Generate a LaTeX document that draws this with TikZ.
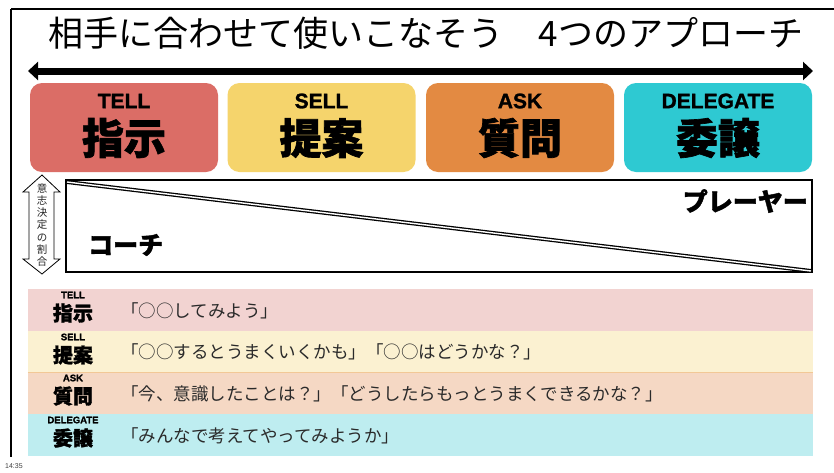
\documentclass[tikz,border=0pt]{standalone}
\usepackage{fontspec}
\setmainfont{Liberation Sans}[BoldFeatures={FakeBold=1.3}]
\newfontfamily\cjk{Noto Sans CJK JP}
\newfontfamily\cjkh{Noto Sans CJK JP}[BoldFeatures={FakeBold=1.6}]
\usetikzlibrary{arrows.meta}
\definecolor{tellred}{HTML}{DB6D66}
\definecolor{sellyellow}{HTML}{F5D46C}
\definecolor{askorange}{HTML}{E38A42}
\definecolor{delcyan}{HTML}{2EC9D2}
\definecolor{rowa}{HTML}{F2D3D1}
\definecolor{rowb}{HTML}{FBF1D1}
\definecolor{rowc}{HTML}{F5D8C4}
\definecolor{rowd}{HTML}{BEEDF0}
\definecolor{sepline}{HTML}{F2C896}
\definecolor{quotetext}{HTML}{2A2A2A}
\begin{document}
\begin{tikzpicture}[x=1pt,y=-1pt,
  topbox/.style={rounded corners=12pt, minimum width=188pt, minimum height=89pt, inner sep=0pt},
  enlabel/.style={font=\bfseries\fontsize{21}{21}\selectfont, inner sep=0pt},
  kanjilabel/.style={font=\cjkh\bfseries\fontsize{42}{42}\selectfont, inner sep=0pt},
  rowbox/.style={minimum width=785pt, inner sep=0pt},
  smallen/.style={font=\bfseries\fontsize{9.5}{9.5}\selectfont, inner sep=0pt},
  smallkanji/.style={font=\cjkh\bfseries\fontsize{20}{20}\selectfont, inner sep=0pt},
  quote/.style={font=\cjk\fontsize{17.5}{17.5}\selectfont, text=quotetext, inner sep=0pt, anchor=west},
  rolelabel/.style={font=\cjkh\bfseries\fontsize{25}{25}\selectfont, inner sep=0pt}
]
\useasboundingbox (0,0) rectangle (834,472);
\fill[white] (0,0) rectangle (834,472);

% frame
\coordinate (ftr) at (834,9);
\coordinate (ftl) at (11,9);
\coordinate (fbl) at (11,457);
\draw[line width=1.5pt] (ftr) -- (ftl);
\draw[line width=2pt] (ftl) -- (fbl);

% title
\node[font=\cjk\fontsize{35}{35}\selectfont, inner sep=0pt] (title) at (426,33) {相手に合わせて使いこなそう　4つのアプローチ};

% main double arrow
\coordinate (al) at (28,71);
\coordinate (ar) at (813,71);
\draw[line width=7pt, {Triangle[length=10pt,width=18pt]}-{Triangle[length=10pt,width=18pt]}] (al) -- (ar);

% top boxes
\node[topbox, fill=tellred] (b1) at (124,127.5) {};
\node[topbox, fill=sellyellow] (b2) at (321.5,127.5) {};
\node[topbox, fill=askorange] (b3) at (520,127.5) {};
\node[topbox, fill=delcyan] (b4) at (718,127.5) {};
\node[enlabel] (e1) at (124,101) {TELL};
\node[enlabel] (e2) at (321.5,101) {SELL};
\node[enlabel] (e3) at (520,101) {ASK};
\node[enlabel] (e4) at (718,101) {DELEGATE};
\node[kanjilabel] (k1) at (124,138) {指示};
\node[kanjilabel] (k2) at (321.5,138) {提案};
\node[kanjilabel] (k3) at (520,138) {質問};
\node[kanjilabel] (k4) at (718,138) {委譲};

% decision ratio arrow
\draw[line width=0.8pt] (42,175) -- (60,192) -- (54,192) -- (54,259) -- (60,259) -- (42,274)
  -- (23,259) -- (29,259) -- (29,192) -- (23,192) -- cycle;
\node[font=\cjk\fontsize{10.5}{12.2}\selectfont, text=black!85, align=center, inner sep=0pt] (ratio) at (42,225)
  {意\\志\\決\\定\\の\\割\\合};

% coach / player box
\node[draw, line width=2pt, minimum width=746pt, minimum height=92pt, inner sep=0pt] (tri) at (439,226) {};
\draw[double, double distance=1.4pt, line width=1.3pt] ([shift={(2,3)}]tri.north west) -- ([shift={(-2,-2)}]tri.south east);
\node[rolelabel, anchor=east] (player) at (808,201) {プレーヤー};
\node[rolelabel, anchor=west] (coach) at (88,245) {コーチ};

% table rows
\node[rowbox, fill=rowa, minimum height=42pt] (r1) at (420.5,310) {};
\node[rowbox, fill=rowb, minimum height=41pt] (r2) at (420.5,351.5) {};
\node[rowbox, fill=rowc, minimum height=42pt] (r3) at (420.5,393) {};
\node[rowbox, fill=rowd, minimum height=42pt] (r4) at (420.5,435) {};
\draw[sepline, line width=1pt] (r2.south west) -- (r2.south east);

\node[smallen] (s1) at (73,295) {TELL};
\node[smallkanji] (t1) at (73,313) {指示};
\node[smallen] (s2) at (73,337) {SELL};
\node[smallkanji] (t2) at (73,355) {提案};
\node[smallen] (s3) at (73,378) {ASK};
\node[smallkanji] (t3) at (73,396) {質問};
\node[smallen] (s4) at (73,420) {DELEGATE};
\node[smallkanji] (t4) at (73,438) {委譲};

\node[quote] (q1) at (121,311) {「○○してみよう」};
\node[quote] (q2) at (121,352) {「○○するとうまくいくかも」「○○はどうかな？」};
\node[quote] (q3) at (121,393.5) {「今、意識したことは？」「どうしたらもっとうまくできるかな？」};
\node[quote] (q4) at (121,436) {「みんなで考えてやってみようか」};

\node[font=\fontsize{7}{7}\selectfont, text=black!75, inner sep=0pt, anchor=west] (time) at (5,466) {14:35};
\end{tikzpicture}
\end{document}
